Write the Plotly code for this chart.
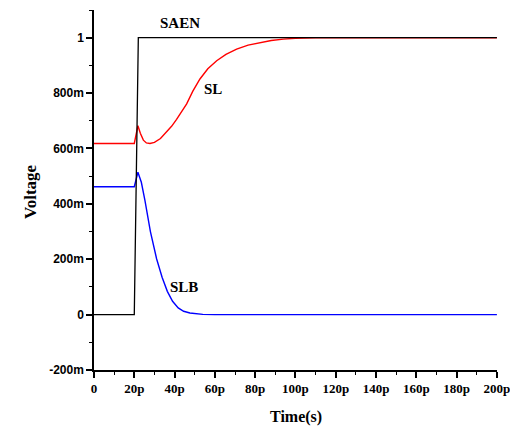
import plotly.graph_objects as go

# time in picoseconds
saen_t = [0, 20, 22, 200]
saen_v = [0, 0, 1, 1]

sl_t = [0, 20, 21.8, 23, 24.5, 26, 27.8, 30, 33, 36, 38.5, 41, 43.5, 46, 49, 52.6, 56.5, 60.9, 65.5, 70.8, 76.5, 82.4, 88, 94, 100, 110, 120, 200]
sl_v = [0.618, 0.618, 0.682, 0.655, 0.630, 0.620, 0.618, 0.622, 0.636, 0.658, 0.680, 0.705, 0.733, 0.761, 0.806, 0.851, 0.888, 0.917, 0.940, 0.959, 0.973, 0.983, 0.990, 0.995, 0.998, 1.0, 1.0, 1.0]

slb_t = [0, 20, 21.8, 23.5, 25.3, 28, 31.1, 33.8, 36.4, 39, 41.8, 44.5, 47.6, 51, 54, 60, 70, 200]
slb_v = [0.462, 0.462, 0.514, 0.478, 0.412, 0.300, 0.201, 0.135, 0.084, 0.048, 0.024, 0.012, 0.006, 0.003, 0.001, 0.0, 0.0, 0.0]

x_tickvals = [0, 20, 40, 60, 80, 100, 120, 140, 160, 180, 200]
x_ticktext = ["0", "20p", "40p", "60p", "80p", "100p", "120p", "140p", "160p", "180p", "200p"]
y_tickvals = [-0.2, 0, 0.2, 0.4, 0.6, 0.8, 1.0]
y_ticktext = ["-200m", "0", "200m", "400m", "600m", "800m", "1"]

W, H = 510, 429
l, r, t, b = 94, 13, 10, 59
pw, ph = W - l - r, H - t - b

fig = go.Figure()
fig.add_trace(go.Scatter(x=sl_t, y=sl_v, mode="lines", line=dict(color="#ff0000", width=1.4), name="SL"))
fig.add_trace(go.Scatter(x=slb_t, y=slb_v, mode="lines", line=dict(color="#0000ff", width=1.4), name="SLB"))
fig.add_trace(go.Scatter(x=saen_t, y=saen_v, mode="lines", line=dict(color="black", width=1.3), name="SAEN"))

serif = "Liberation Serif"
ann_font = dict(family=serif, size=15, color="black")
for txt, x, y in [("<b>SAEN</b>", 42.7, 1.054), ("<b>SL</b>", 59, 0.816), ("<b>SLB</b>", 44.7, 0.101)]:
    fig.add_annotation(x=x, y=y, text=txt, showarrow=False, font=ann_font, xref="x", yref="y")

# axis titles
fig.add_annotation(x=(30 - l) / pw, y=(H - b - 192) / ph, xref="paper", yref="paper",
                   xanchor="center", yanchor="middle",
                   text="<b>Voltage</b>", textangle=-90,
                   showarrow=False, font=dict(family=serif, size=17, color="black"))
fig.add_annotation(x=(296 - l) / pw, y=(H - b - 417) / ph, xref="paper", yref="paper",
                   xanchor="center", yanchor="middle",
                   text="<b>Time(s)</b>", showarrow=False,
                   font=dict(family=serif, size=16, color="black"))

fig.update_layout(
    width=W, height=H,
    margin=dict(l=l, r=r, t=t, b=b, autoexpand=False),
    plot_bgcolor="white", paper_bgcolor="white",
    showlegend=False,
    xaxis=dict(
        range=[0, 200.05], showgrid=False, zeroline=False, automargin=False,
        showline=True, linecolor="black", linewidth=1.5,
        ticks="outside", ticklen=6, tickwidth=1.5, tickcolor="black",
        tickvals=x_tickvals, ticktext=["<b>%s</b>" % s for s in x_ticktext],
        ticklabeloverflow="allow",
        tickfont=dict(family=serif, size=13, color="black"),
        minor=dict(ticks="outside", dtick=10, tick0=0, ticklen=3, tickwidth=1.2, tickcolor="black"),
    ),
    yaxis=dict(
        range=[-0.2, 1.1], showgrid=False, zeroline=False, automargin=False,
        showline=True, linecolor="black", linewidth=1.5,
        ticks="outside", ticklen=6, tickwidth=1.5, tickcolor="black",
        tickvals=y_tickvals, ticktext=["<b>%s</b>" % s for s in y_ticktext],
        ticklabeloverflow="allow",
        tickfont=dict(family="Liberation Sans", size=12, color="black"),
        minor=dict(ticks="outside", dtick=0.1, tick0=0, ticklen=3, tickwidth=1.2, tickcolor="black"),
    ),
)

fig.write_html("out.html", config={"displayModeBar": False},
               post_script="document.body.style.margin='0';document.body.style.overflow='hidden';")
